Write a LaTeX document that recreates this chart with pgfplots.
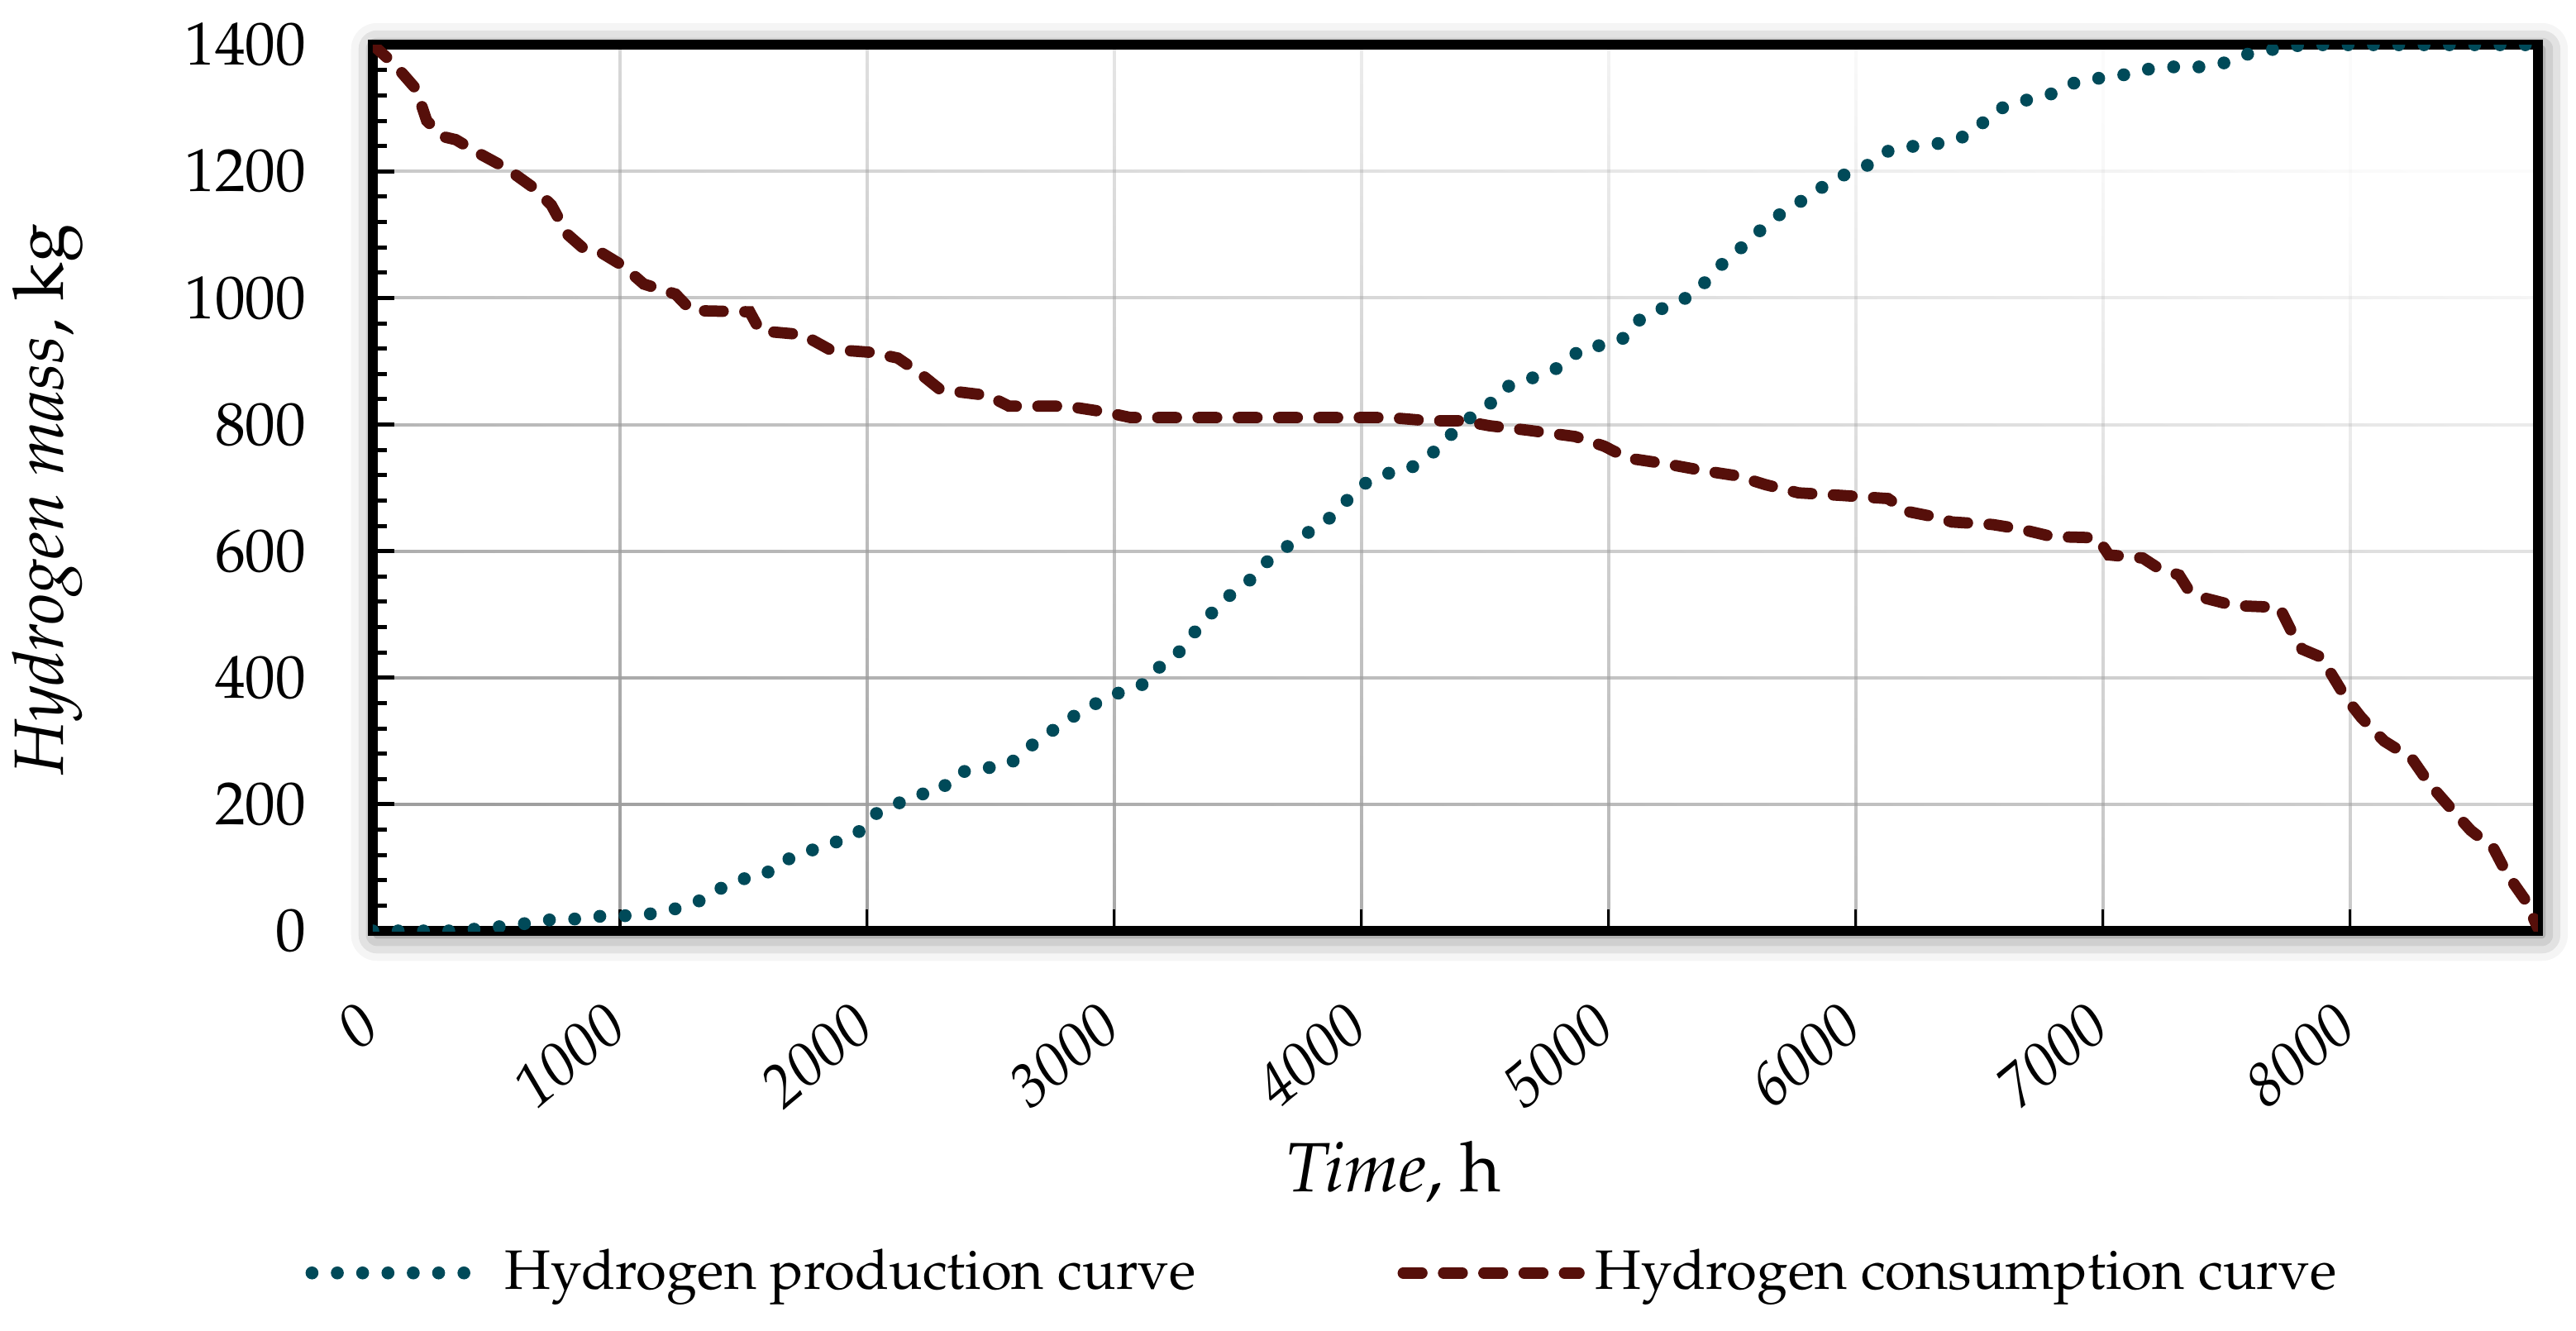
\documentclass[border=0pt]{standalone}
\usepackage[T1]{fontenc}
\usepackage{mathpazo}
\usepackage{pgfplots}
\pgfplotsset{compat=1.18}
\usetikzlibrary{shadows.blur,fadings}

\definecolor{prodteal}{RGB}{0,74,89}
\definecolor{consred}{RGB}{86,15,10}

% grid fades out towards the upper right, as in the source figure
\begin{tikzfadingfrompicture}[name=gridfade]
  \shade[bottom color=transparent!0, top color=transparent!97, shading angle=-40]
    (-1,-1) rectangle (1,1);
\end{tikzfadingfrompicture}

\pgfplotstableread{
h kg
0 0
100 0
214 0
315 0
422 3
522 7
625 12
726 18
839 19
938 24
1049 24
1150 28
1246 37
1332 49
1407 67
1482 81
1585 88
1647 110
1734 119
1820 136
1906 143
1985 161
2039 186
2118 200
2199 215
2296 220
2349 247
2441 257
2546 259
2623 275
2681 299
2752 317
2816 335
2895 351
2970 371
3060 380
3141 394
3191 421
3259 439
3308 465
3365 488
3423 516
3490 537
3558 557
3615 582
3683 603
3754 621
3827 641
3894 658
3952 685
4019 708
4096 722
4192 729
4260 748
4327 766
4385 795
4452 814
4519 832
4577 858
4663 870
4750 881
4827 896
4890 921
4990 926
5077 939
5125 965
5202 981
5288 994
5365 1013
5423 1040
5481 1061
5548 1083
5612 1106
5677 1128
5750 1145
5823 1165
5894 1182
5971 1198
6057 1211
6122 1231
6219 1239
6320 1243
6411 1250
6490 1266
6549 1292
6624 1306
6716 1315
6808 1324
6886 1340
6982 1347
7079 1352
7175 1361
7278 1365
7389 1365
7488 1371
7571 1384
7665 1391
7761 1398
7850 1400
8760 1400
}\production

\pgfplotstableread{
h kg
0 1400
90 1368
175 1330
218 1280
282 1255
336 1250
422 1230
540 1205
647 1175
722 1147
786 1101
850 1079
914 1074
1011 1051
1096 1022
1225 1006
1289 980
1525 978
1567 948
1739 942
1846 919
2017 914
2124 905
2210 882
2296 855
2488 846
2574 829
2809 829
2959 820
3066 811
3302 811
4115 811
4269 806
4404 806
4519 798
4673 791
4865 781
4981 766
5077 747
5231 738
5385 727
5519 719
5635 705
5769 692
5942 688
6131 683
6204 663
6333 653
6389 646
6554 642
6665 635
6794 623
6978 621
7024 594
7162 589
7217 575
7309 562
7346 539
7420 525
7530 514
7715 511
7761 475
7807 445
7880 433
7926 405
7982 369
8046 337
8138 300
8249 273
8322 232
8414 191
8488 159
8580 131
8635 90
8709 49
8760 5
}\consumption

\begin{document}
\begin{tikzpicture}
\useasboundingbox (-72.16pt,-77.28pt) rectangle (426.4pt,180.16pt);
\begin{axis}[
    scale only axis,
    width=419pt, height=171.5pt,
    xmin=0, xmax=8760,
    ymin=0, ymax=1400,
    xtick={0,1000,...,8000},
    ytick={0,200,...,1400},
    minor y tick num=4,
    tick align=inside,
    xtick pos=bottom, ytick pos=left,
    major tick length=4.2pt,
    minor tick length=2.8pt,
    axis line style={line width=1.85pt},
    x tick style={line width=0.5pt, black},
    y tick style={line width=0.8pt, black},
    grid=major,
    major grid style={line width=0.65pt, black!38, path fading=gridfade},
    /pgf/number format/1000 sep={},
    /pgf/number format/assume math mode=true,
    ticklabel style={font=\fontsize{11.75}{14}\selectfont},
    yticklabel style={xshift=-9.4pt},
    xticklabel style={xshift=-3pt, yshift=-8.4pt, rotate=40, anchor=north east,
        font=\fontsize{11.75}{14}\selectfont\itshape},
    every axis y label/.style={at={(axis description cs:-0.150,0.487)},
        rotate=90, anchor=center, font=\fontsize{13.5}{16}\selectfont},
    every axis x label/.style={at={(axis description cs:0.4716,-0.272)},
        anchor=center, font=\fontsize{13.5}{16}\selectfont},
    xlabel={\textit{Time}, h},
    ylabel={\textit{Hydrogen mass}, kg},
    axis background/.style={fill=white,
        blur shadow={shadow xshift=0.8pt, shadow yshift=-0.8pt,
        shadow blur radius=5pt, shadow opacity=60}},
    legend columns=2,
    legend style={at={(0.4404,-0.386)}, anchor=center, draw=none, fill=none,
        font=\fontsize{10.75}{13}\selectfont,
        /tikz/every even column/.append style={column sep=37pt}},
    legend image code/.code={\draw[#1] (0pt,0pt) -- (34pt,0pt);},
]
\addplot[prodteal, line width=2.5pt, line cap=round,
    dash pattern=on 0pt off 4.9pt] table[x=h, y=kg] {\production};
\addlegendentry{Hydrogen production curve}
\addplot[consred, line width=2.2pt, line cap=round,
    dash pattern=on 3.6pt off 4.2pt] table[x=h, y=kg] {\consumption};
\addlegendentry{Hydrogen consumption curve}
\end{axis}
\end{tikzpicture}
\end{document}
